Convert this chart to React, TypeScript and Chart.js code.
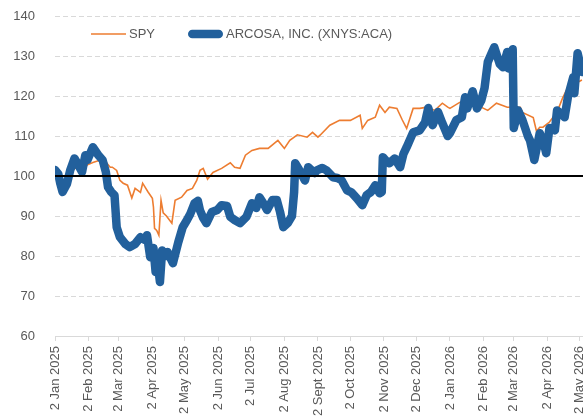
import React, { useEffect, useRef } from "react";
import { Chart, registerables } from "chart.js";

Chart.register(...registerables);

// ---- Data (x = calendar days since 2 Jan 2025) ----
const tickDays = [0, 31, 59, 90, 120, 151, 181, 212, 243, 273, 304, 334, 365, 396, 424, 455, 485];
const tickLabels = [
  "2 Jan 2025", "2 Feb 2025", "2 Mar 2025", "2 Apr 2025", "2 May 2025", "2 Jun 2025",
  "2 Jul 2025", "2 Aug 2025", "2 Sept 2025", "2 Oct 2025", "2 Nov 2025", "2 Dec 2025",
  "2 Jan 2026", "2 Feb 2026", "2 Mar 2026", "2 Apr 2026", "2 May 2026",
];

const spyLabel = "SPY";
const acaLabel = "ARCOSA, INC. (XNYS:ACA)";

const spyDays = [
  0, 4, 8, 12, 16, 22, 26, 30, 35, 40,
  45, 48, 51, 53, 57, 60, 63, 67, 71, 74,
  79, 81, 86, 90, 91, 92, 94, 96, 98, 100,
  103, 108, 111, 117, 122, 127, 131, 134, 137, 141,
  146, 154, 162, 166, 171, 176, 182, 189, 197, 206,
  212, 217, 224, 233, 238, 243, 245, 254, 263, 273,
  282, 284, 289, 296, 300, 305, 309, 316, 321, 325,
  331, 337, 344, 351, 358, 363, 365, 374, 385, 390,
  400, 408, 418, 422, 430, 432, 442, 445, 448, 451,
  457, 464, 469, 473, 480, 487,
];
const spyValues = [
  100, 99.5, 98.5, 100.5, 101.5, 102.5, 101.5, 102.8, 103.4, 103.8,
  104.2, 103.2, 102.2, 102.2, 101.4, 98.9, 98.2, 97.7, 94.5, 96.9,
  95.9, 98.2, 96, 94.4, 92.2, 86.9, 86.4, 85.2, 93.9, 90.8,
  90, 88.2, 93.9, 94.7, 96.4, 96.9, 98.9, 101.4, 101.9, 99.2,
  100.9, 101.9, 103.3, 102.2, 101.9, 105.2, 106.4, 106.9, 106.9, 108.9,
  106.9, 108.9, 110.3, 109.7, 110.9, 109.7, 110.2, 112.7, 113.9, 113.9,
  115.2, 111.9, 113.9, 114.7, 117.7, 115.9, 117.2, 116.9, 114, 111.9,
  116.9, 116.9, 117.2, 116.4, 118.2, 117.2, 116.9, 118.4, 119.4, 117.7,
  116.4, 118.2, 117.2, 117.2, 117.2, 115.9, 114.6, 111.2, 112.2, 112.2,
  113.5, 116, 119.4, 121.6, 123, 124,
];

const acaDays = [
  0, 3, 5, 7, 9, 11, 14, 18, 21, 25,
  28, 30, 35, 38, 40, 44, 47, 49, 52, 55,
  57, 60, 65, 69, 74, 79, 83, 85, 88, 91,
  93, 95, 97, 99, 102, 104, 109, 114, 118, 122,
  125, 129, 132, 134, 137, 140, 145, 150, 154, 159,
  162, 166, 171, 177, 182, 186, 189, 193, 196, 201,
  205, 208, 211, 215, 219, 221, 222, 226, 231, 234,
  240, 242, 247, 251, 257, 261, 265, 270, 274, 279,
  284, 288, 292, 296, 300, 302, 303, 307, 309, 314,
  319, 322, 325, 331, 337, 342, 345, 349, 354, 358,
  363, 365, 371, 376, 379, 381, 386, 390, 394, 397,
  400, 404, 406, 411, 414, 418, 419, 421, 423, 424,
  428, 432, 437, 439, 443, 448, 452, 454, 457, 462,
  464, 468, 471, 474, 479, 480, 483, 487,
];
const acaValues = [
  101.5, 100.5, 98, 96, 97, 98, 101.4, 104.4, 103, 101,
  105.2, 104, 107.2, 106, 105.2, 104, 101, 97.2, 96, 95.2,
  87.2, 84.7, 83, 82.2, 83, 84.7, 84, 85.2, 79.7, 82,
  76, 78, 73.5, 81.4, 80, 81, 78.2, 83.5, 87.2, 89,
  90.5, 93.2, 93.8, 91.4, 89.5, 88.2, 91, 91.5, 92.7, 92.5,
  89.8, 89, 88.2, 89.8, 93.2, 92, 94.7, 93, 91.5, 94,
  94, 91, 87.2, 88.2, 90, 96, 103.2, 101.4, 98.9, 102.2,
  100.7, 101.4, 102, 101.4, 99.7, 99.5, 98.9, 96.4, 95.9, 94.4,
  92.7, 95.2, 96, 97.7, 95.7, 96, 104.7, 103.5, 103.2, 104.4,
  102.2, 105.5, 107.2, 110.9, 111.4, 113.4, 117, 112.7, 116, 113.2,
  110, 110.7, 114, 114.7, 119.7, 116.9, 121.2, 116.9, 118.9, 122,
  128.5, 131, 132.2, 128, 127.2, 131, 126.9, 129, 131.7, 112,
  116.4, 114, 110, 108.9, 104, 110.7, 108, 105.7, 112, 111.4,
  116.4, 115.5, 114.7, 119.7, 124.7, 120.7, 130.7, 126,
];

const baselineValue = 100;
const baselineDays = [0, 500];

const xMin = 0;
const xMax = 500;
const yMin = 60;
const yMax = 140;
const yStep = 10;

// ---- Styles ----
const FONT = '"Liberation Sans", Arial, sans-serif';
const TEXT = "#595959";
const GRID = "#D9D9D9";
const ORANGE = "#ED7D31";
const BLUE = "#22609C";

const legendPlugin = {
  id: "insideLegend",
  afterDraw(chart: any) {
    const ctx = chart.ctx;
    const { left, top } = chart.chartArea;
    const y = top + 18;
    ctx.save();
    ctx.font = `13px ${FONT}`;
    ctx.textBaseline = "middle";
    ctx.textAlign = "left";
    let x = left + 36;
    const items = chart.data.datasets.filter((d: any) => d.showInLegend);
    for (const d of items) {
      const w = d.borderWidth;
      ctx.beginPath();
      ctx.strokeStyle = d.borderColor;
      ctx.lineWidth = w;
      ctx.lineCap = w > 3 ? "round" : "butt";
      const inset = w > 3 ? w / 2 : 0;
      ctx.moveTo(x + inset, y);
      ctx.lineTo(x + 35 - inset, y);
      ctx.stroke();
      ctx.fillStyle = TEXT;
      ctx.fillText(d.label, x + 38, y + 0.5);
      x += 38 + ctx.measureText(d.label).width + 33;
    }
    ctx.restore();
  },
};

export default function App() {
  const ref = useRef<HTMLCanvasElement | null>(null);

  useEffect(() => {
    if (!ref.current) return;
    const toXY = (xs: number[], ys: number[]) => xs.map((x, i) => ({ x, y: ys[i] }));
    const chart = new Chart(ref.current, {
      type: "line",
      data: {
        datasets: [
          {
            label: spyLabel,
            data: toXY(spyDays, spyValues),
            borderColor: ORANGE,
            backgroundColor: ORANGE,
            borderWidth: 1.6,
            pointRadius: 0,
            tension: 0,
            order: 2,
            showInLegend: true,
          } as any,
          {
            label: acaLabel,
            data: toXY(acaDays, acaValues),
            borderColor: BLUE,
            backgroundColor: BLUE,
            borderWidth: 8.5,
            borderCapStyle: "round",
            borderJoinStyle: "round",
            pointRadius: 0,
            tension: 0,
            order: 1,
            showInLegend: true,
          } as any,
          {
            label: "baseline",
            data: baselineDays.map((x) => ({ x, y: baselineValue })),
            borderColor: "#000000",
            borderWidth: 2,
            pointRadius: 0,
            order: 0,
            showInLegend: false,
          } as any,
        ],
      },
      options: {
        animation: false,
        responsive: false,
        devicePixelRatio: 1,
        layout: { padding: { top: 16, left: 0, right: 0, bottom: 0 } },
        plugins: {
          legend: { display: false },
          tooltip: { enabled: false },
        },
        scales: {
          x: {
            type: "linear",
            min: xMin,
            max: xMax,
            afterBuildTicks: (s: any) => {
              s.ticks = tickDays.map((v) => ({ value: v }));
            },
            afterFit: (s: any) => {
              s.height = 81;
              s.paddingLeft = 0;
              s.paddingRight = 0;
            },
            ticks: {
              autoSkip: false,
              maxRotation: 90,
              minRotation: 90,
              padding: 5,
              color: TEXT,
              font: { family: FONT, size: 13 },
              callback: (_v: any, i: number) => tickLabels[i],
            },
            grid: {
              drawOnChartArea: false,
              drawTicks: true,
              tickLength: 5,
              color: GRID,
            },
            border: { display: true, color: GRID, width: 1 },
          },
          y: {
            min: yMin,
            max: yMax,
            afterFit: (s: any) => {
              s.width = 55;
              s.paddingTop = 0;
              s.paddingBottom = 0;
            },
            ticks: {
              stepSize: yStep,
              padding: 20,
              color: TEXT,
              font: { family: FONT, size: 13 },
            },
            grid: {
              color: GRID,
              lineWidth: 1,
              drawTicks: false,
            },
            border: { display: false, dash: [5, 3] },
          },
        },
      },
      plugins: [legendPlugin],
    } as any);
    return () => chart.destroy();
  }, []);

  return (
    <div
      style={{
        position: "fixed",
        left: 0,
        top: 0,
        width: 583,
        height: 417,
        overflow: "hidden",
        background: "#ffffff",
      }}
    >
      <canvas ref={ref} width={596} height={417} style={{ display: "block" }} />
    </div>
  );
}
